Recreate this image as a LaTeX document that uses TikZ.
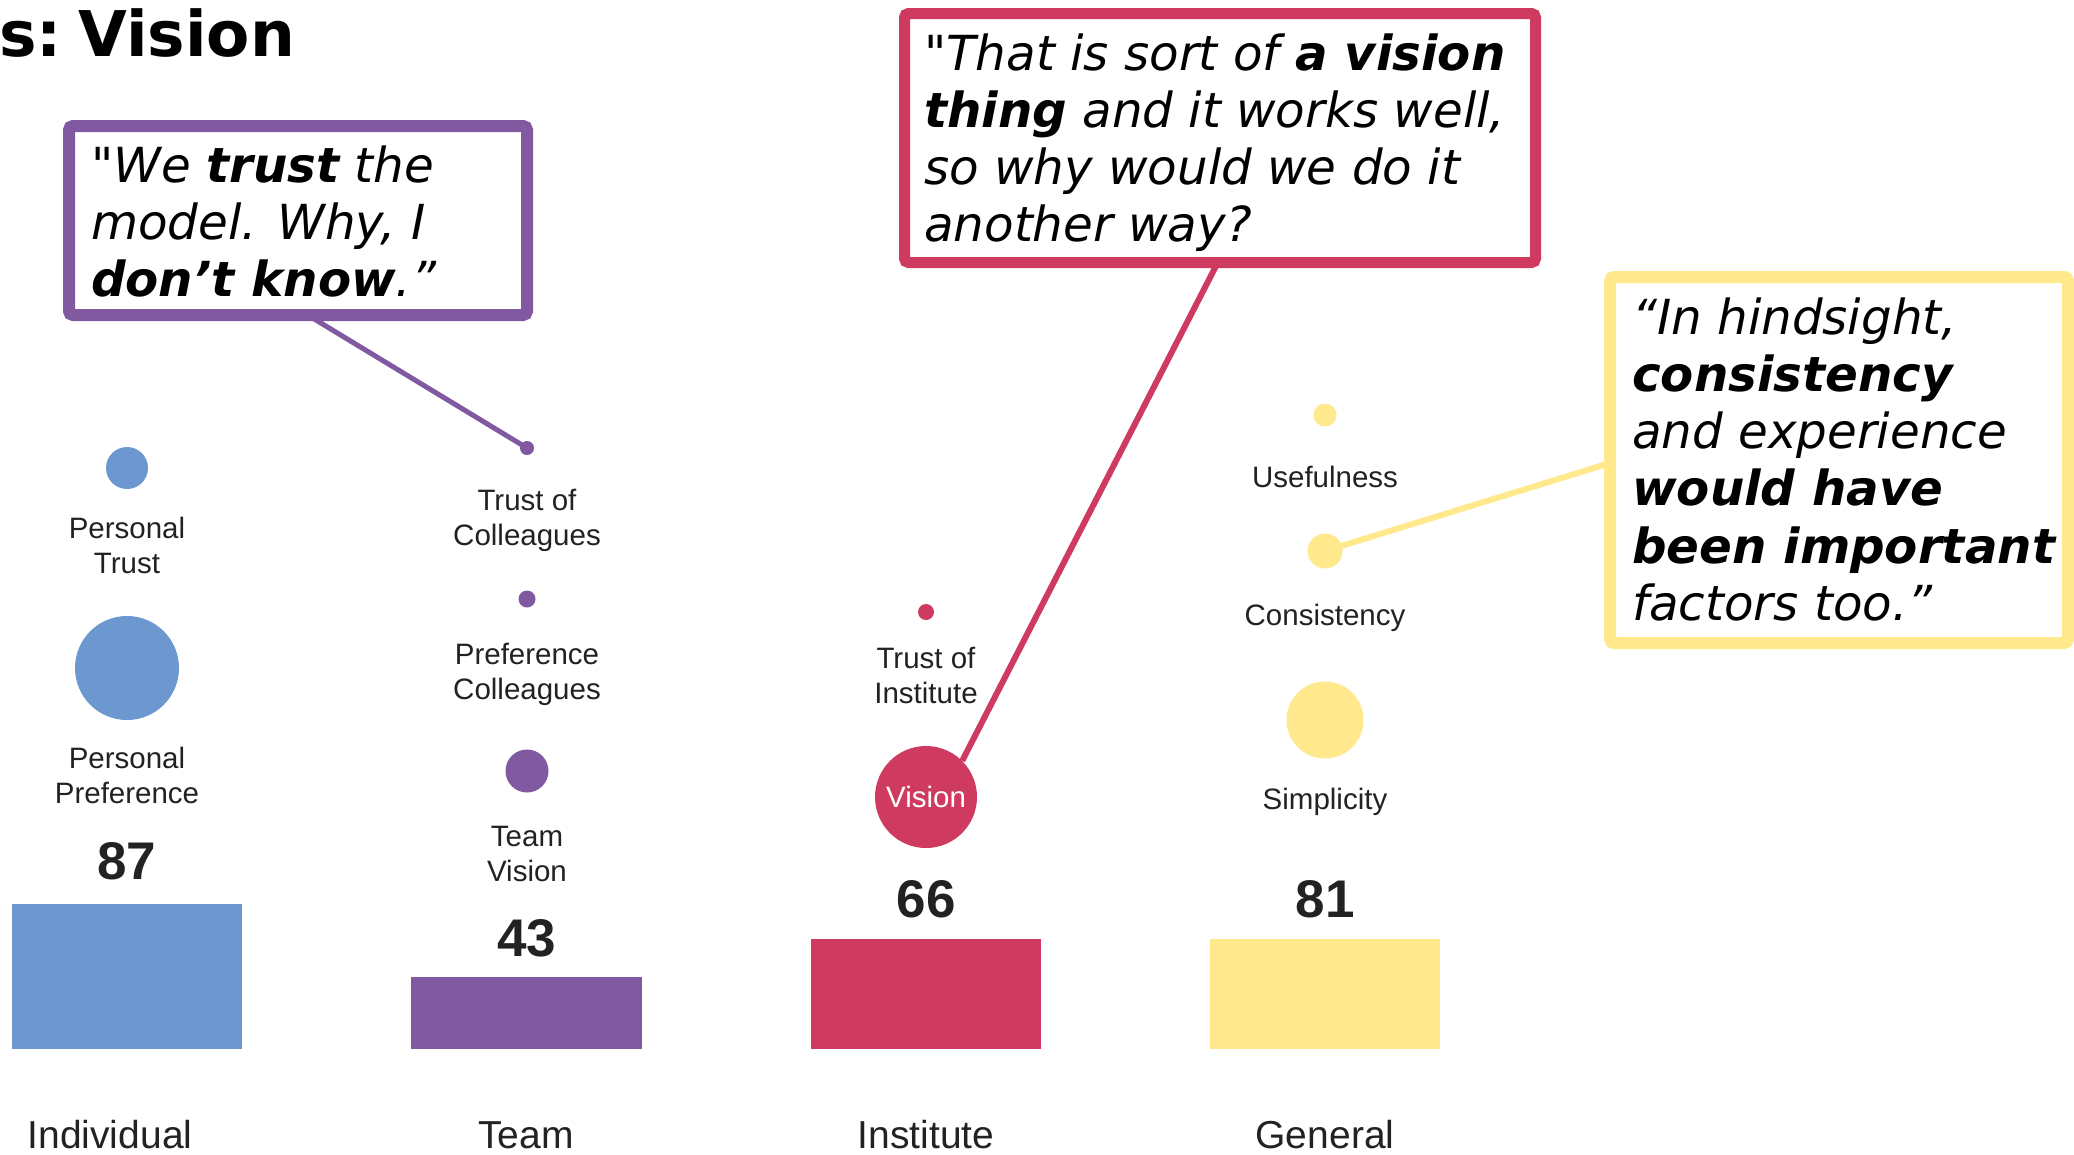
\documentclass[tikz,border=0pt]{standalone}
\usepackage{fontspec}
\setmainfont{DejaVu Sans}[Ligatures=TeXOff]
\newfontfamily\labfont{Liberation Sans}
\usetikzlibrary{backgrounds}
\definecolor{cblue}{RGB}{108,152,207}
\definecolor{cpurple}{RGB}{128,89,161}
\definecolor{cred}{RGB}{207,59,96}
\definecolor{cyellow}{RGB}{255,233,140}
\definecolor{ink}{RGB}{34,34,34}
\newcommand{\qfont}{\fontsize{48.3}{57.3}\selectfont\itshape}
\newcommand{\lfont}{\labfont\fontsize{29.5}{35}\selectfont}
\newcommand{\twol}[2]{\begin{tabular}[t]{@{}c@{}}#1\\#2\end{tabular}}
\begin{document}
\begin{tikzpicture}[x=1pt,y=-1pt,
  qbox/.style={draw, fill=white, rounded corners=4pt, inner sep=0pt},
  qtext/.style={anchor=base west, inner sep=0pt, font=\qfont, text=black},
  dot/.style={circle, inner sep=0pt, draw=none},
  lbl/.style={anchor=base, inner sep=0pt, font=\lfont, text=ink},
  num/.style={anchor=base, inner sep=0pt, font=\labfont\bfseries\fontsize{53}{56}\selectfont, text=ink},
  cat/.style={anchor=base, inner sep=0pt, font=\labfont\fontsize{39}{42}\selectfont, text=ink},
  conn/.style={line width=#1}]
\useasboundingbox (0,0) rectangle (2074,1154);

% title
\node[anchor=base west, inner sep=0pt, font=\bfseries\fontsize{63}{66}\selectfont] (title) at (-1,56) {s:\hspace{-0.2em} Vision};

% bars
\fill[cblue] (12,904) rectangle (242,1049);
\fill[cpurple] (411,977) rectangle (642,1049);
\fill[cred] (811,939) rectangle (1041,1049);
\fill[cyellow] (1210,939) rectangle (1440,1049);

% numbers
\node[num] (n87) at (127,879) {87};
\node[num] (n43) at (527,956) {43};
\node[num] (n66) at (926,917) {66};
\node[num] (n81) at (1325,917) {81};

% category labels
\node[cat] (cind) at (110,1148) {Individual};
\node[cat] (cteam) at (526,1148) {Team};
\node[cat] (cinst) at (926,1148) {Institute};
\node[cat] (cgen) at (1325,1148) {General};

% dots
\node[dot, fill=cblue, minimum size=42pt] (ptrust) at (127,468) {};
\node[dot, fill=cblue, minimum size=104pt] (ppref) at (127,668) {};
\node[dot, fill=cpurple, minimum size=14pt] (tcoll) at (527,448) {};
\node[dot, fill=cpurple, minimum size=17pt] (pcoll) at (527,599) {};
\node[dot, fill=cpurple, minimum size=43pt] (tvis) at (527,771) {};
\node[dot, fill=cred, minimum size=16pt] (tinst) at (926,612) {};
\node[dot, fill=cred, minimum size=102pt, text=white, font=\lfont] (vision) at (926,797) {Vision};
\node[dot, fill=cyellow, minimum size=23pt] (usef) at (1325,415) {};
\node[dot, fill=cyellow, minimum size=35pt] (cons) at (1325,551) {};
\node[dot, fill=cyellow, minimum size=77pt] (simp) at (1325,720) {};

% dot labels
\node[lbl] (lptrust) at (127,538) {\twol{Personal}{Trust}};
\node[lbl] (lppref) at (127,768) {\twol{Personal}{Preference}};
\node[lbl] (ltcoll) at (527,510) {\twol{Trust of}{Colleagues}};
\node[lbl] (lpcoll) at (527,664) {\twol{Preference}{Colleagues}};
\node[lbl] (ltvis) at (527,846) {\twol{Team}{Vision}};
\node[lbl] (ltinst) at (926,668) {\twol{Trust of}{Institute}};
\node[lbl] (lusef) at (1325,487) {Usefulness};
\node[lbl] (lcons) at (1325,625) {Consistency};
\node[lbl] (lsimp) at (1325,809) {Simplicity};

% quote boxes
\node[qbox, draw=cpurple, line width=12pt, minimum width=458pt, minimum height=189pt] (pbox) at (298,220.5) {};
\node[qbox, draw=cred, line width=11pt, minimum width=631pt, minimum height=249pt] (rbox) at (1220,138) {};
\node[qbox, draw=cyellow, line width=12pt, minimum width=458pt, minimum height=366pt] (ybox) at (1839,460) {};

\node[qtext] (ptext) at (91,182) {\begin{tabular}[t]{@{}l@{}}"We \textbf{trust} the\\model. Why, I\\\textbf{don’t know}.”\end{tabular}};
\node[qtext] (rtext) at (924,70) {\begin{tabular}[t]{@{}l@{}}"That is sort of \textbf{a vision}\\\textbf{thing} and it works well,\\so why would we do it\\another way?\end{tabular}};
\node[qtext] (ytext) at (1632,334) {\begin{tabular}[t]{@{}l@{}}“In hindsight,\\\textbf{consistency}\\and experience\\\textbf{would have}\\\textbf{been important}\\factors too.”\end{tabular}};

% connector tails
\coordinate (ptail) at (306,314);
\coordinate (rtail) at (1218,262);
\coordinate (ytail) at (1610,463);

\begin{pgfonlayer}{background}
\fill[white] (0,0) rectangle (2074,1154);
\draw[cpurple, conn=5pt] (ptail) -- (tcoll.center);
\draw[cred, conn=6pt] (rtail) -- (vision.45);
\draw[cyellow, conn=6pt] (ytail) -- (cons.center);
\end{pgfonlayer}
\end{tikzpicture}
\end{document}
